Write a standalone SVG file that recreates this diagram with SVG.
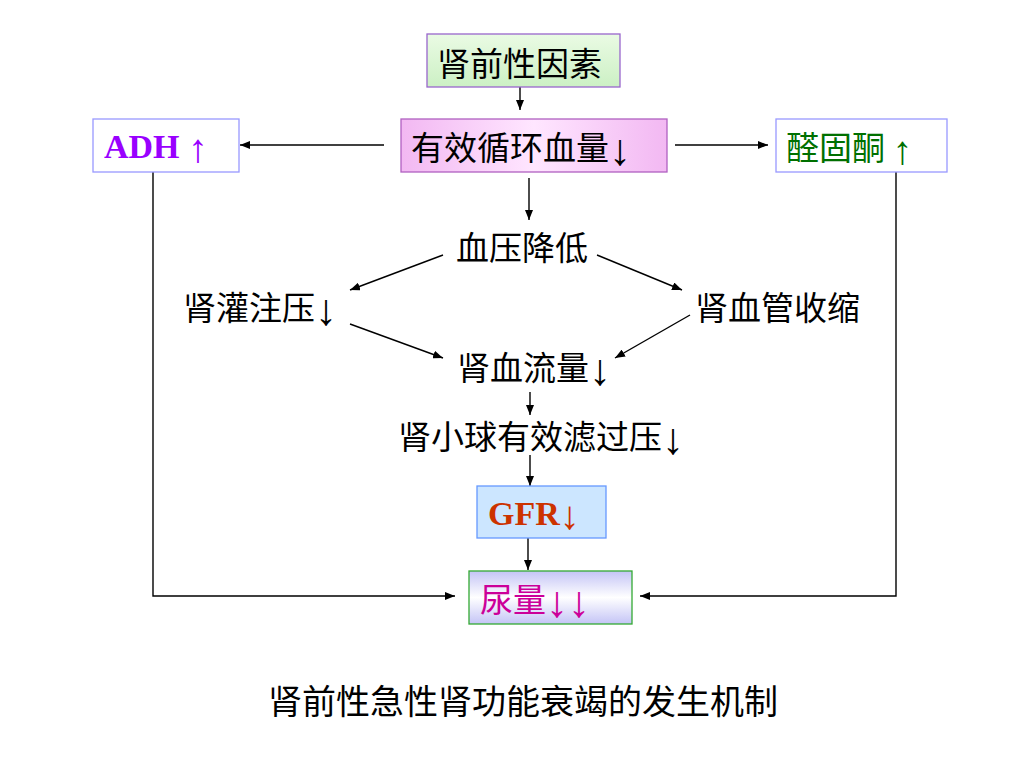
<svg xmlns="http://www.w3.org/2000/svg" width="1024" height="768" viewBox="0 0 1024 768">
<defs>
<style>
.t{font-family:"Noto Sans CJK SC","Liberation Sans",sans-serif;font-size:33px;fill:#000}
.b{font-family:"Liberation Serif","Noto Sans CJK SC",serif;font-weight:bold;font-size:34px}
.a{font-family:"Liberation Serif",serif;font-weight:normal;font-size:44px}
.ln{stroke:#000;stroke-width:1.4;fill:none}
</style>
<marker id="ah" viewBox="0 0 10 8" refX="10" refY="4" markerWidth="10" markerHeight="8" markerUnits="userSpaceOnUse" orient="auto">
<path d="M0,0 L10,4 L0,8 Z" fill="#000"/>
</marker>
<linearGradient id="gGreen" x1="0" y1="0" x2="0" y2="1">
<stop offset="0" stop-color="#EAFBE4"/><stop offset="1" stop-color="#CCF0C4"/>
</linearGradient>
<linearGradient id="gPink" x1="0" y1="0" x2="1" y2="0">
<stop offset="0" stop-color="#F2B8F2"/><stop offset="0.5" stop-color="#FFE6FF"/><stop offset="1" stop-color="#F2B8F2"/>
</linearGradient>
<linearGradient id="gLav" x1="0" y1="0" x2="0" y2="1">
<stop offset="0" stop-color="#C4C4F6"/><stop offset="0.5" stop-color="#FFFFFF"/><stop offset="1" stop-color="#C4C4F6"/>
</linearGradient>
</defs>
<rect width="1024" height="768" fill="#fff"/>

<g id="connectors">
<line class="ln" x1="520" y1="87" x2="520" y2="110" marker-end="url(#ah)"/>
<line class="ln" x1="384" y1="145" x2="240" y2="145" marker-end="url(#ah)"/>
<line class="ln" x1="675" y1="145" x2="768" y2="145" marker-end="url(#ah)"/>
<line class="ln" x1="529" y1="178" x2="529" y2="220" marker-end="url(#ah)"/>
<line class="ln" x1="443" y1="255" x2="350" y2="290" marker-end="url(#ah)"/>
<line class="ln" x1="350" y1="324" x2="443" y2="358" marker-end="url(#ah)"/>
<line class="ln" x1="597" y1="255" x2="682" y2="290" marker-end="url(#ah)"/>
<line class="ln" x1="690" y1="315" x2="615" y2="358" marker-end="url(#ah)"/>
<line class="ln" x1="530" y1="392" x2="530" y2="415" marker-end="url(#ah)"/>
<line class="ln" x1="530" y1="455" x2="530" y2="486" marker-end="url(#ah)"/>
<line class="ln" x1="528" y1="538" x2="528" y2="570" marker-end="url(#ah)"/>
<polyline class="ln" points="153,172 153,596 455,596" marker-end="url(#ah)"/>
<polyline class="ln" points="896,172 896,596 640,596" marker-end="url(#ah)"/>
</g>

<g id="n-prerenal">
<rect x="427" y="34" width="193" height="53" fill="url(#gGreen)" stroke="#9966CC" stroke-width="1.3"/>
<text class="t" x="437" y="76">肾前性因素</text>
</g>
<g id="n-ecv">
<rect x="401" y="119" width="266" height="53" fill="url(#gPink)" stroke="#B060C0" stroke-width="1.3"/>
<text class="t" x="411" y="160">有效循环血量<tspan class="a" dy="5">↓</tspan></text>
</g>
<g id="n-adh">
<rect x="93" y="119" width="146" height="53" fill="#fff" stroke="#9999FF" stroke-width="1.3"/>
<text class="b" x="104" y="158" fill="#9900FF">ADH <tspan class="a" dy="4" style="font-size:40px">↑</tspan></text>
</g>
<g id="n-ald">
<rect x="776" y="119" width="171" height="53" fill="#fff" stroke="#9999FF" stroke-width="1.3"/>
<text class="t" x="786" y="160" style="fill:#007000">醛固酮 <tspan class="a" dy="4" style="font-size:40px">↑</tspan></text>
</g>
<g id="n-bp">
<text class="t" x="456" y="260">血压降低</text>
</g>
<g id="n-rpp">
<text class="t" x="183" y="320">肾灌注压<tspan class="a" dy="5">↓</tspan></text>
</g>
<g id="n-rvc">
<text class="t" x="695" y="320">肾血管收缩</text>
</g>
<g id="n-rbf">
<text class="t" x="457" y="380">肾血流量<tspan class="a" dy="5">↓</tspan></text>
</g>
<g id="n-gfp">
<text class="t" x="398" y="449">肾小球有效滤过压<tspan class="a" dy="5">↓</tspan></text>
</g>
<g id="n-gfr">
<rect x="477" y="486" width="129" height="52" fill="#CCE6FF" stroke="#6699FF" stroke-width="1.3"/>
<text class="b" x="488" y="525" fill="#CC3300">GFR<tspan class="a" dy="4" style="font-size:40px">↓</tspan></text>
</g>
<g id="n-urine">
<rect x="469" y="571" width="163" height="53" fill="url(#gLav)" stroke="#33AA33" stroke-width="1.3"/>
<text class="t" x="480" y="612" style="fill:#CC0099">尿量<tspan class="a" dy="5">↓↓</tspan></text>
</g>
<g id="caption">
<text class="t" x="268" y="714" style="font-size:34px">肾前性急性肾功能衰竭的发生机制</text>
</g>
</svg>
